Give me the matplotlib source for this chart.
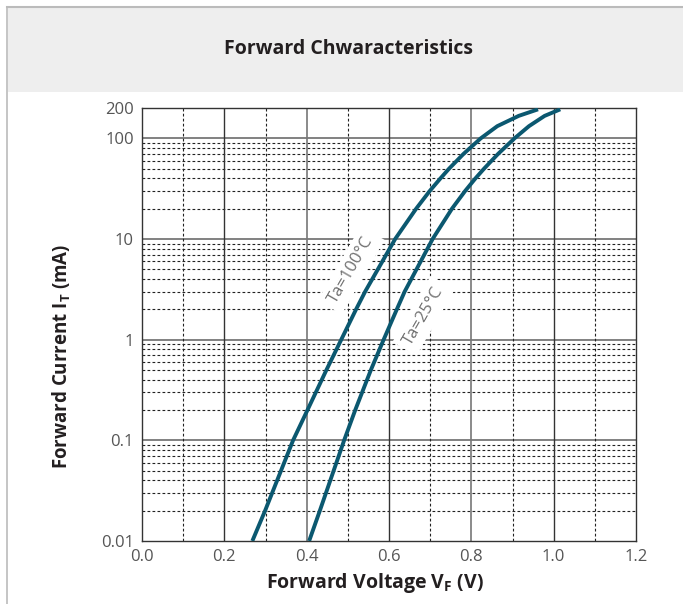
import numpy as np
import matplotlib.pyplot as plt
from matplotlib.patches import Rectangle
from matplotlib.lines import Line2D

plt.rcParams['font.family'] = ['Open Sans', 'DejaVu Sans']
plt.rcParams['mathtext.fontset'] = 'custom'
plt.rcParams['mathtext.bf'] = 'Open Sans:bold'
plt.rcParams['mathtext.rm'] = 'Open Sans'

# ---- data ----
current_ma = [0.01, 0.02, 0.1, 0.2, 0.5, 1, 2, 3, 10, 20, 30, 40, 50, 70, 100, 132, 167, 194]
vf_100c = [0.268, 0.299, 0.367, 0.402, 0.448, 0.484, 0.520, 0.542, 0.615, 0.666, 0.699,
           0.725, 0.746, 0.781, 0.823, 0.863, 0.915, 0.962]
vf_25c = [0.406, 0.432, 0.491, 0.518, 0.556, 0.587, 0.619, 0.638, 0.706, 0.753, 0.785,
          0.810, 0.831, 0.865, 0.905, 0.940, 0.978, 1.016]

x_ticks = [0.0, 0.2, 0.4, 0.6, 0.8, 1.0, 1.2]
x_tick_labels = ['0.0', '0.2', '0.4', '0.6', '0.8', '1.0', '1.2']
y_ticks = [0.01, 0.1, 1, 10, 100, 200]
y_tick_labels = ['0.01', '0.1', '1', '10', '100', '200']

curve_color = '#0b5870'

fig = plt.figure(figsize=(6.83, 6.04), dpi=100)

# grey title band and thin frame
fig.patches.append(Rectangle((8 / 683, (604 - 92) / 604), 1, 84 / 604, transform=fig.transFigure,
                             facecolor='#eeeeee', edgecolor='none', zorder=0))
fig.lines.append(Line2D([7 / 683, 1], [1 - 7 / 604, 1 - 7 / 604], transform=fig.transFigure,
                        color='#bbbbbb', lw=1.5))
fig.lines.append(Line2D([7 / 683, 7 / 683], [0, 1 - 7 / 604], transform=fig.transFigure,
                        color='#bbbbbb', lw=1.2))
fig.text(348 / 683, 1 - 49 / 604, 'Forward Chwaracteristics', ha='center', va='center',
         fontsize=14, fontweight='bold', color='#231f20')

ax = fig.add_axes([142 / 683, 63 / 604, 494 / 683, 433 / 604])
ax.set_yscale('log')
ax.set_xlim(0, 1.2)
ax.set_ylim(0.01, 200)

# grid: dashed minors, solid majors
for dec in [0.01, 0.1, 1, 10]:
    for m in range(2, 10):
        ax.axhline(dec * m, color='#222222', lw=0.8, ls=(0, (2.5, 2)), zorder=1)
for dec in [0.1, 1, 10, 100]:
    ax.axhline(dec, color='#777777', lw=1.3, zorder=1)
for xv in [0.1, 0.3, 0.5, 0.7, 0.9, 1.1]:
    ax.axvline(xv, color='#222222', lw=0.8, ls=(0, (2.5, 2)), zorder=1)
for xv in [0.2, 0.6, 1.0]:
    ax.axvline(xv, color='#333333', lw=1.0, zorder=1)
for xv in [0.4, 0.8]:
    ax.axvline(xv, color='#777777', lw=1.2, zorder=1)

ax.plot(vf_100c, current_ma, color=curve_color, lw=2.8, solid_capstyle='butt',
        solid_joinstyle='round', zorder=3)
ax.plot(vf_25c, current_ma, color=curve_color, lw=2.8, solid_capstyle='butt',
        solid_joinstyle='round', zorder=3)

box = dict(boxstyle='square,pad=0.35', facecolor='white', edgecolor='none')
ax.text(0.508, 4.9, 'Ta=100°C', rotation=60, ha='center', va='center', fontsize=12,
        color='#707070', bbox=box, zorder=2)
ax.text(0.684, 1.73, 'Ta=25°C', rotation=60, ha='center', va='center', fontsize=12,
        color='#707070', bbox=box, zorder=2)

ax.set_xticks(x_ticks)
ax.set_xticklabels(x_tick_labels)
ax.set_yticks(y_ticks)
ax.set_yticklabels(y_tick_labels)
ax.yaxis.set_minor_locator(plt.NullLocator())
ax.tick_params(length=0, labelsize=12, labelcolor='#555555', pad=6)
for s in ax.spines.values():
    s.set_color('#333333')
    s.set_linewidth(1.0)

ax.set_xlabel(r'Forward Voltage $\mathbf{V_F}$ (V)', fontsize=14, fontweight='bold',
              color='#231f20')
ax.xaxis.set_label_coords((375 - 142) / 494, -(571 - 541) / 433)
ax.set_ylabel(r'Forward Current $\mathbf{I_T}$ (mA)', fontsize=13.5, fontweight='bold',
              color='#231f20')
ax.yaxis.set_label_coords(-(142 - 73) / 494, (541 - 356) / 433)

fig.savefig('out.png', dpi=100)
